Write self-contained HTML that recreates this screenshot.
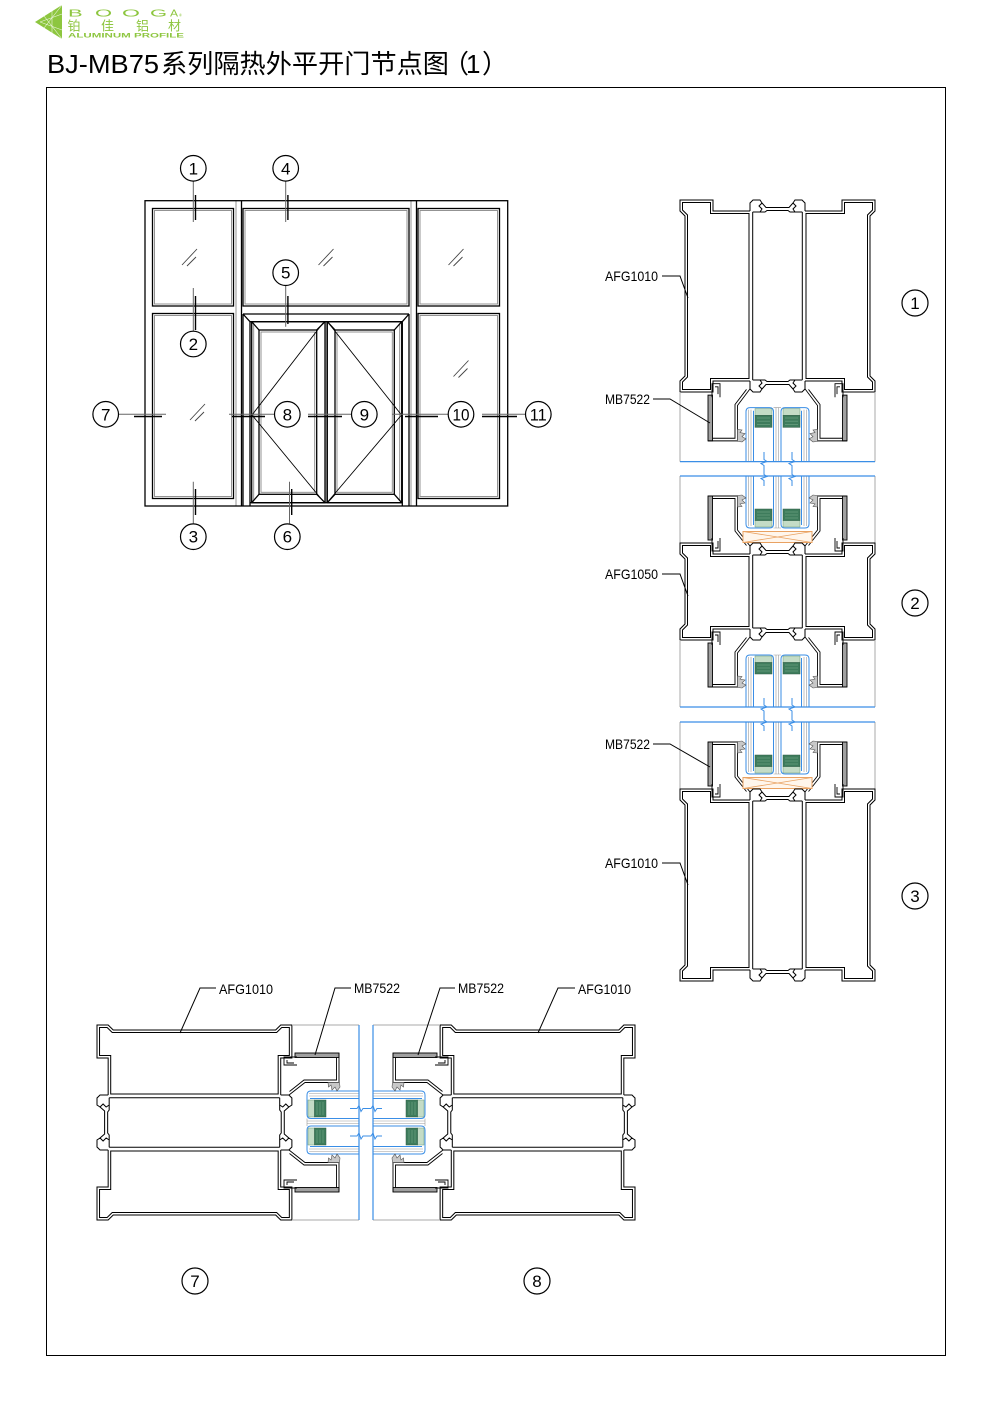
<!DOCTYPE html>
<html>
<head>
<meta charset="utf-8">
<style>
html,body{margin:0;padding:0;background:#fff;}
svg{display:block;}
text{font-family:"Liberation Sans","Noto Sans CJK SC",sans-serif;}
</style>
</head>
<body>
<svg width="992" height="1403" viewBox="0 0 992 1403" xmlns="http://www.w3.org/2000/svg" xmlns:xlink="http://www.w3.org/1999/xlink">
<rect width="992" height="1403" fill="#fff"/>
<defs>
  <g id="ct" fill="none" stroke="#000" stroke-width="1">
    <path d="M70,11 V3 L73,0 H80 L82,3 L79,6 L82,9 L80,12 H72.7"/>
    <path d="M125,11 V3 L122,0 H115 L113,3 L116,6 L113,9 L115,12 H122.3"/>
    <path d="M82,3 L86,7.5 H109 L113,3"/>
    <path d="M80,12 H85 L87,10.5 H108 L110,12 H115"/>
  </g>
  <g id="h1010" fill="none" stroke="#000" stroke-width="1">
    <path d="M70,11 H33 V0 H0 V11 L5,16 V176 L0,181 V192 H33 V181 H70"/>
    <path d="M2.5,2.5 H30.5 V13.5 H69 V178.5 H30.5 V189.5 H2.5 V182 L7.5,177 V15 L2.5,10 Z"/>
  </g>
  <g id="p1010">
    <use xlink:href="#h1010"/>
    <use xlink:href="#h1010" transform="matrix(-1,0,0,1,195,0)"/>
    <use xlink:href="#ct"/>
    <use xlink:href="#ct" transform="matrix(1,0,0,-1,0,192)"/>
    <path d="M72.7,12 V180 M122.3,12 V180" stroke="#000" fill="none" stroke-width="1"/>
  </g>
  <g id="h1050" fill="none" stroke="#000" stroke-width="1">
    <path d="M70,11 H33 V0 H0 V11 L5,16 V81 L0,86 V97 H33 V86 H70"/>
    <path d="M2.5,2.5 H30.5 V13.5 H69 V83.5 H30.5 V94.5 H2.5 V87 L7.5,82 V15 L2.5,10 Z"/>
  </g>
  <g id="p1050">
    <use xlink:href="#h1050"/>
    <use xlink:href="#h1050" transform="matrix(-1,0,0,1,195,0)"/>
    <use xlink:href="#ct"/>
    <use xlink:href="#ct" transform="matrix(1,0,0,-1,0,97)"/>
    <path d="M72.7,12 V85 M122.3,12 V85" stroke="#000" fill="none" stroke-width="1"/>
  </g>
  <g id="sash" fill="none" stroke="#000" stroke-width="0.9">
    <rect x="28" y="3" width="4.5" height="44" fill="#a0a0a0"/>
    <path d="M28,47 H57.5 V13 L70,-3"/>
    <path d="M32.5,44.5 H55 V12 L66.5,-2.5"/>
    <path d="M32,5 V-8 H40 V5 M35,-5 H38 V2"/>
    <path d="M57.5,36 L62,36.5 L60,39 L65,40 L62,43 L66,45 L62,48 L57.5,47.5 Z" fill="#c8c8c8" stroke="#555" stroke-width="0.6"/>
  </g>
  <g id="spc">
    <rect x="0" y="16" width="17" height="6.5" fill="#c4dcc6" stroke="#6a9a78" stroke-width="0.5"/>
    <rect x="0" y="22.5" width="17" height="11.5" fill="#3e7c5c" stroke="#2d5a43" stroke-width="0.5"/>
    <path d="M2,25 H15 M2,28 H15 M2,31 H15" stroke="#7fb090" stroke-width="0.5"/>
  </g>
  <g id="asm">
    <path d="M0,0 V67 M195,0 V67" stroke="#aaa" stroke-width="1" fill="none"/>
    <path d="M68.5,17 V67 M71,17 V67 M96,15 V67 M98.5,15 V67 M124,17 V67 M126.5,17 V67 M93.5,15 H101" stroke="#999" stroke-width="0.6" fill="none"/>
    <use xlink:href="#spc" transform="translate(75,0)"/>
    <use xlink:href="#spc" transform="translate(103,0)"/>
    <path d="M66,67 V19 Q66,15 70,15 H89.5 Q93.5,15 93.5,19 V67 M73.5,18 V67 M101,67 V19 Q101,15 105,15 H125 Q129,15 129,19 V67 M121.5,18 V67" stroke="#3a8ee6" stroke-width="1" fill="none"/>
    <path d="M0,67 H195" stroke="#3a8ee6" stroke-width="1.2"/>
    <use xlink:href="#sash"/>
    <use xlink:href="#sash" transform="matrix(-1,0,0,1,195,0)"/>
  </g>
  <g id="blk">
    <rect x="63" y="0.5" width="69" height="11" fill="#fff6ec" stroke="#e9a262" stroke-width="1"/>
    <path d="M63,0.5 L132,11.5 M63,11.5 L132,0.5" stroke="#e9a262" stroke-width="0.8"/>
  </g>
</defs>

<!-- ===== LOGO ===== -->
<polygon points="35,22 62,5 62,39" fill="#8dc63f"/>
<path d="M62,5 L44,28 M62,39 L44,16 M62,14 L40,22 M62,30 L40,22 M52,11 V33" stroke="#fff" stroke-width="0.6" fill="none" opacity="0.85"/>
<g fill="#8dc63f" font-size="11">
  <text transform="translate(68,16.5) scale(2,0.95)">B</text>
  <text transform="translate(95,16.5) scale(2,0.95)">O</text>
  <text transform="translate(122,16.5) scale(2.1,0.95)">O</text>
  <text transform="translate(150,16.5) scale(2,0.95)">G</text>
  <text transform="translate(170,16.5) scale(1.1,0.95)">A</text>
</g>
<text x="179" y="16.5" font-size="4" fill="#8dc63f">®</text>
<g fill="#8dc63f" font-size="13">
  <text x="67.5" y="30.5">铂</text>
  <text x="101" y="30.5">佳</text>
  <text x="136" y="30.5">铝</text>
  <text x="168" y="30.5">材</text>
</g>
<text x="68" y="37.5" font-size="6.5" font-weight="bold" fill="#8dc63f" textLength="116" lengthAdjust="spacingAndGlyphs">ALUMINUM PROFILE</text>

<!-- ===== TITLE ===== -->
<text x="47" y="73" font-size="26" fill="#000" textLength="112" lengthAdjust="spacingAndGlyphs">BJ-MB75</text>
<text x="161" y="73" font-size="26" fill="#000" textLength="288" lengthAdjust="spacingAndGlyphs">系列隔热外平开门节点图</text>
<text y="73" font-size="26" fill="#000"><tspan x="443">（</tspan><tspan x="466">1</tspan><tspan x="482">）</tspan></text>

<!-- border -->
<rect x="46.5" y="87.5" width="899" height="1268" fill="none" stroke="#000" stroke-width="1"/>

<!-- ===== ELEVATION ===== -->
<g fill="none" stroke="#888" stroke-width="0.9">
  <rect x="154.5" y="210.5" width="77" height="93.5"/>
  <rect x="154.5" y="315.5" width="77" height="181"/>
  <rect x="245" y="210.5" width="162" height="93.5"/>
  <rect x="420" y="210.5" width="77.5" height="93.5"/>
  <rect x="420" y="315.5" width="77.5" height="181"/>
  <rect x="261" y="332" width="53.7" height="160.3"/>
  <rect x="337" y="332" width="55.3" height="160.3"/>
  <path d="M236,200.7 V506 M411,200.7 V506 M326.2,321.7 V502.7 M253.7,323.7 V500.7 M399.7,323.7 V500.7"/>
</g>
<g fill="none" stroke="#000" stroke-width="1.3">
  <rect x="145" y="200.7" width="362.7" height="305.3"/>
  <rect x="152.5" y="208.5" width="81" height="97.5"/>
  <rect x="152.5" y="313.5" width="81" height="185"/>
  <rect x="243" y="208.5" width="166" height="97.5"/>
  <rect x="418" y="208.5" width="81.5" height="97.5"/>
  <rect x="418" y="313.5" width="81.5" height="185"/>
  <path d="M241.5,200.7 V506 M416.5,200.7 V506"/>
  <path d="M243,314 H409 M243,314 V506 M409,314 V506 M243,314 L250,321.7 M409,314 L402.3,321.7 M250,321.7 H402.3 M250,321.7 V506 M402.3,321.7 V506 M250,502.7 H402.3"/>
  <rect x="251.7" y="321.7" width="73.3" height="181"/>
  <rect x="259" y="330" width="57.7" height="164.3"/>
  <path d="M251.7,321.7 L259,330 M325,321.7 L316.7,330 M251.7,502.7 L259,494.3 M325,502.7 L316.7,494.3"/>
  <rect x="327.3" y="321.7" width="74.4" height="181"/>
  <rect x="335" y="330" width="59.3" height="164.3"/>
  <path d="M327.3,321.7 L335,330 M401.7,321.7 L394.3,330 M327.3,502.7 L335,494.3 M401.7,502.7 L394.3,494.3"/>
</g>
<path d="M323,323 L252,415 L323,501 M328.5,323 L401.5,415 L328.5,501" fill="none" stroke="#000" stroke-width="0.9"/>
<g stroke="#444" stroke-width="0.9" fill="none">
  <path d="M182,265 L197,249 M187,266 L196,257"/>
  <path d="M318.5,265 L333.5,249 M323.5,266 L332.5,257"/>
  <path d="M448.5,265 L463.5,249 M453.5,266 L462.5,257"/>
  <path d="M453.5,376.5 L468.5,360.5 M458.5,377.5 L467.5,368.5"/>
  <path d="M190,420 L205,404 M195,421 L204,412"/>
</g>
<g fill="none">
  <path d="M193.3,181.3 V222 M285.7,181.3 V222 M193.3,288 V331 M285.7,285.7 V326.7 M193.3,481.7 V523.4 M289.5,481.7 V523.4 M119,414.3 H166 M229,414.3 H274 M308,414.3 H351 M392,414.3 H448 M482,414.3 H525" stroke="#666" stroke-width="1"/>
  <path d="M195.5,195 V220 M287.9,195 V220 M195.5,296 V330 M287.9,296 V324 M195.5,489 V515 M291.7,489 V515 M134,416.5 H162 M232,416.5 H265 M308,416.5 H342 M405,416.5 H438 M482,416.5 H517" stroke="#000" stroke-width="1.4"/>
</g>
<g fill="#fff" stroke="#000" stroke-width="1.2">
  <circle cx="193.3" cy="168.3" r="12.8"/>
  <circle cx="285.7" cy="168.3" r="12.8"/>
  <circle cx="285.7" cy="272.7" r="12.8"/>
  <circle cx="193.3" cy="344" r="12.8"/>
  <circle cx="193.3" cy="536.7" r="12.8"/>
  <circle cx="287.3" cy="536.7" r="12.8"/>
  <circle cx="105.7" cy="414.3" r="12.8"/>
  <circle cx="287.3" cy="414.3" r="12.8"/>
  <circle cx="364.3" cy="414.3" r="12.8"/>
  <circle cx="461" cy="414.3" r="12.8"/>
  <circle cx="538.3" cy="414.3" r="12.8"/>
  <circle cx="915" cy="303" r="13"/>
  <circle cx="915" cy="603" r="13"/>
  <circle cx="915" cy="896" r="13"/>
  <circle cx="195" cy="1281" r="13"/>
  <circle cx="537" cy="1281" r="13"/>
</g>
<g font-size="17" fill="#000" text-anchor="middle">
  <text x="193.3" y="174.3">1</text>
  <text x="285.7" y="174.3">4</text>
  <text x="285.7" y="278.7">5</text>
  <text x="193.3" y="350">2</text>
  <text x="193.3" y="542.7">3</text>
  <text x="287.3" y="542.7">6</text>
  <text x="105.7" y="420.3">7</text>
  <text x="287.3" y="420.3">8</text>
  <text x="364.3" y="420.3">9</text>
  <text x="461" y="420.3" textLength="17" lengthAdjust="spacingAndGlyphs">10</text>
  <text x="538.3" y="420.3" textLength="17" lengthAdjust="spacingAndGlyphs">11</text>
  <text x="915" y="309">1</text>
  <text x="915" y="609">2</text>
  <text x="915" y="902">3</text>
  <text x="195" y="1287">7</text>
  <text x="537" y="1287">8</text>
</g>

<!-- ===== RIGHT VERTICAL SECTIONS ===== -->
<use xlink:href="#p1010" transform="translate(680,200)"/>
<use xlink:href="#asm" transform="matrix(1,0,0,1.04,680,392)"/>

<use xlink:href="#asm" transform="matrix(1,0,0,-1,680,543)"/>
<use xlink:href="#blk" transform="matrix(1,0,0,-1,680,543)"/>
<use xlink:href="#p1050" transform="translate(680,543)"/>
<use xlink:href="#asm" transform="translate(680,640)"/>

<use xlink:href="#asm" transform="matrix(1,0,0,-1,680,789)"/>
<use xlink:href="#blk" transform="matrix(1,0,0,-1,680,789)"/>
<use xlink:href="#p1010" transform="matrix(1,0,0,-1,680,981)"/>

<g fill="none" stroke="#3a8ee6" stroke-width="1">
  <path d="M764,452 V459.5 L767,461.5 L761,463.5 L764,465.5 V474.5 L767,476.5 L761,478.5 L764,480.5 V486"/>
  <path d="M792,452 V459.5 L795,461.5 L789,463.5 L792,465.5 V474.5 L795,476.5 L789,478.5 L792,480.5 V486"/>
  <path d="M764,698 V705 L767,707 L761,709 L764,711 V720 L767,722 L761,724 L764,726 V731"/>
  <path d="M792,698 V705 L795,707 L789,709 L792,711 V720 L795,722 L789,724 L792,726 V731"/>
  <path d="M350,1108.5 H357 L359,1105.5 L361,1111.5 L363,1108.5 H371 L373,1105.5 L375,1111.5 L377,1108.5 H382"/>
  <path d="M350,1136 H357 L359,1133 L361,1139 L363,1136 H371 L373,1133 L375,1139 L377,1136 H382"/>
</g>

<!-- ===== BOTTOM HORIZONTAL SECTIONS ===== -->
<use xlink:href="#p1010" transform="matrix(0,1,1.015,0,97,1025)"/>
<use xlink:href="#asm" transform="matrix(0,1,1,0,292,1025)"/>
<use xlink:href="#p1010" transform="matrix(0,1,-1.015,0,635,1025)"/>
<use xlink:href="#asm" transform="matrix(0,1,-1,0,440,1025)"/>

<!-- ===== LABELS & LEADERS ===== -->
<g fill="none" stroke="#000" stroke-width="1">
  <path d="M662,276 H680 L688,298"/>
  <path d="M653,399 H670 L710,423"/>
  <path d="M662,574 H680 L688,596"/>
  <path d="M653,744 H670 L710,767"/>
  <path d="M662,863 H680 L688,885"/>
  <path d="M216,988 H200 L180,1033"/>
  <path d="M351,988 H335 L315,1055"/>
  <path d="M455,988 H440 L418,1055"/>
  <path d="M575,988 H558 L538,1033"/>
</g>
<g font-size="14" fill="#000">
  <text x="605" y="281" textLength="53" lengthAdjust="spacingAndGlyphs">AFG1010</text>
  <text x="605" y="404" textLength="45" lengthAdjust="spacingAndGlyphs">MB7522</text>
  <text x="605" y="579" textLength="53" lengthAdjust="spacingAndGlyphs">AFG1050</text>
  <text x="605" y="749" textLength="45" lengthAdjust="spacingAndGlyphs">MB7522</text>
  <text x="605" y="868" textLength="53" lengthAdjust="spacingAndGlyphs">AFG1010</text>
  <text x="219" y="994" textLength="54" lengthAdjust="spacingAndGlyphs">AFG1010</text>
  <text x="354" y="993" textLength="46" lengthAdjust="spacingAndGlyphs">MB7522</text>
  <text x="458" y="993" textLength="46" lengthAdjust="spacingAndGlyphs">MB7522</text>
  <text x="578" y="994" textLength="53" lengthAdjust="spacingAndGlyphs">AFG1010</text>
</g>
</svg>
</body>
</html>
